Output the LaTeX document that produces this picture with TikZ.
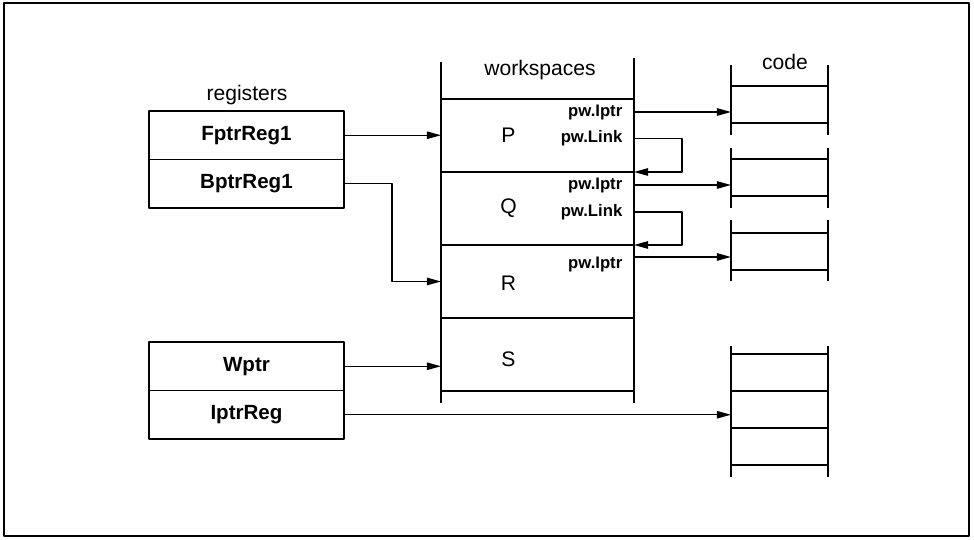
\documentclass[tikz,border=0pt]{standalone}
\usepackage{fontspec}
\setmainfont{Liberation Sans}
\usetikzlibrary{arrows.meta,positioning}

\begin{document}
\begin{tikzpicture}[
    x=0.02cm, y=-0.02cm,
    line join=round, line width=0.8pt,
    regcell/.style={draw, minimum width=3.9cm, minimum height=0.97cm, inner sep=0pt, outer sep=0pt,
      font=\fontsize{11.7}{14}\selectfont\bfseries},
    wscell/.style={draw, minimum width=3.86cm, minimum height=1.46cm, inner sep=0pt, outer sep=0pt},
    codecell/.style={draw, minimum width=1.94cm, minimum height=0.74cm, inner sep=0pt, outer sep=0pt},
    title/.style={font=\fontsize{12}{14}\selectfont},
    pwlabel/.style={font=\fontsize{9.5}{11}\selectfont\bfseries, inner sep=0pt, anchor=east},
    ptr/.style={-{Triangle[length=8pt,width=4.2pt]}},
  ]

  % ---------- frame ----------
  \useasboundingbox (0,0) rectangle (974,539);
  \draw[line width=1pt] (4,3) rectangle (969,536);

  % ---------- REGISTERS ----------
  \node[title] (reglbl) at (247,95) {registers};
  \node[regcell, anchor=north west] (freg) at (149,111) {FptrReg1};
  \node[regcell, below=0pt of freg] (breg) {BptrReg1};
  \node[regcell, anchor=north west] (wreg) at (149,342) {Wptr};
  \node[regcell, below=0pt of wreg] (ireg) {IptrReg};

  % ---------- WORKSPACES (four frames between two open rails) ----------
  \node[title] (wslbl) at (540,70) {workspaces};
  \node[wscell, anchor=north west] (wsP) at (441,99) {};
  \foreach \a/\b in {P/Q,Q/R,R/S}
    \node[wscell, below=0pt of ws\a] (ws\b) {};
  \draw ([yshift=0.74cm]wsP.north west) -- ([yshift=-0.24cm]wsS.south west);
  \draw ([yshift=0.82cm]wsP.north east) -- ([yshift=-0.24cm]wsS.south east);
  \foreach \c/\dy in {P/0,Q/0,R/-0.03,S/-0.1}
    \node[title] (let\c) at ([xshift=-0.58cm,yshift=\dy cm]ws\c.center) {\c};

  % fields inside the frames
  \node[pwlabel] (iptrP) at ([xshift=-0.22cm,yshift=-0.26cm]wsP.north east) {pw.Iptr};
  \node[pwlabel] (linkP) at ([xshift=-0.22cm,yshift=-0.79cm]wsP.north east) {pw.Link};
  \node[pwlabel] (iptrQ) at ([xshift=-0.22cm,yshift=-0.26cm]wsQ.north east) {pw.Iptr};
  \node[pwlabel] (linkQ) at ([xshift=-0.22cm,yshift=-0.80cm]wsQ.north east) {pw.Link};
  \node[pwlabel] (iptrR) at ([xshift=-0.22cm,yshift=-0.40cm]wsR.north east) {pw.Iptr};
  \coordinate (iptrRy) at ([yshift=0.16cm]iptrR.east);

  % ---------- CODE ----------
  \node[title] (codelbl) at (785,62) {code};
  \node[codecell, anchor=north west] (c1) at (731,86) {};
  \node[codecell, anchor=north west] (c2) at (731,159) {};
  \node[codecell, anchor=north west] (c3) at (731,233) {};
  \node[codecell, anchor=north west] (c4a) at (731,354) {};
  \node[codecell, below=0pt of c4a] (c4b) {};
  \node[codecell, below=0pt of c4b] (c4c) {};
  % open rails running past the cells
  \foreach \t/\b/\u/\d in {c1/c1/0.42/0.24, c2/c2/0.22/0.24, c3/c3/0.26/0.22, c4a/c4c/0.16/0.24} {
    \draw ([yshift=\u cm]\t.north west) -- ([yshift=-\d cm]\b.south west);
    \draw ([yshift=\u cm]\t.north east) -- ([yshift=-\d cm]\b.south east);
  }

  % ---------- POINTERS ----------
  \draw[ptr] (freg.east) -- (freg.east -| wsP.west);
  \draw[ptr] (breg.east) -- ++(48,0) |- (wsR.west);
  \draw[ptr] (wreg.east) -- (wreg.east -| wsS.west);
  \draw[ptr] (ireg.east) -- (ireg.east -| c4b.west);

  \draw[ptr] (iptrP.east -| wsP.east) -- (iptrP.east -| c1.west);
  \draw[ptr] (linkP.east -| wsP.east) -- ++(48,0) |- (wsQ.north east);
  \draw[ptr] (iptrQ.east -| wsQ.east) -- (iptrQ.east -| c2.west);
  \draw[ptr] (linkQ.east -| wsQ.east) -- ++(48,0) |- (wsR.north east);
  \draw[ptr] (iptrRy -| wsR.east) -- (iptrRy -| c3.west);

\end{tikzpicture}
\end{document}
